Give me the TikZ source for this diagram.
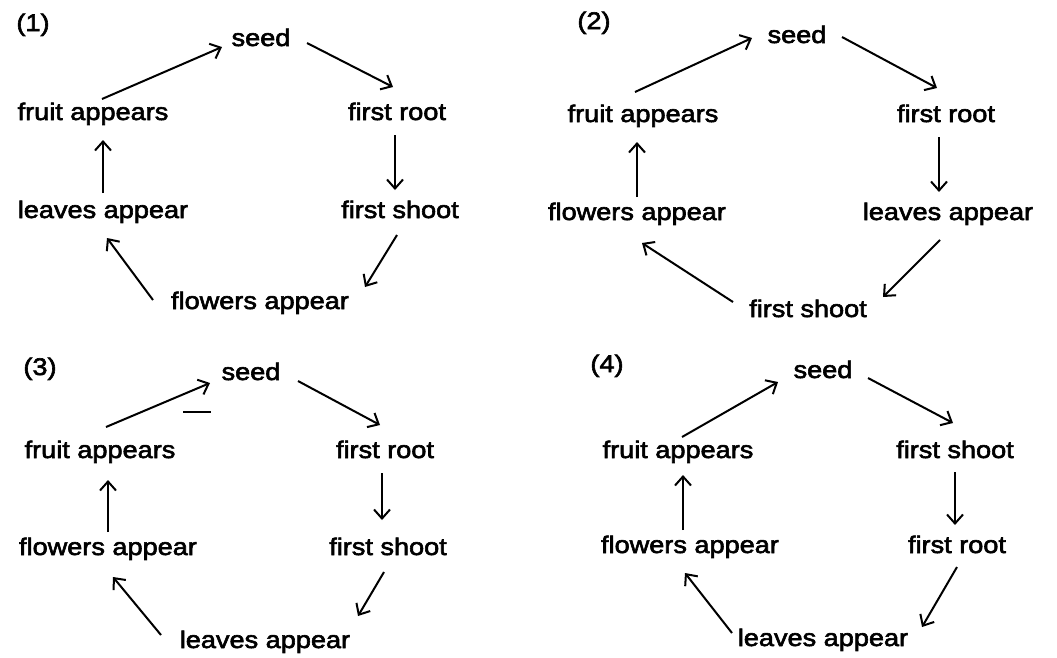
\documentclass[tikz,border=0pt]{standalone}
\usepackage{fontspec}
\setmainfont{Liberation Sans}[FakeStretch=1.13,FakeBold=2.5]
\usetikzlibrary{arrows.meta,calc}
\tikzset{
  lbl/.style={anchor=base,inner sep=0pt,font=\fontsize{24}{28}\selectfont},
  arr/.style={line width=2pt,-{Straight Barb[length=9pt,width=16pt,line width=2pt]}},
}
\begin{document}
\begin{tikzpicture}[x=1pt,y=-1pt]
\useasboundingbox (0,0) rectangle (1057,657);
% ---------- panel 1
\node[lbl] (n1) at (33,31) {(1)};
\node[lbl] (s1) at (261,46) {seed};
\node[lbl] (r1) at (397,120) {first root};
\node[lbl] (fr1) at (93,120) {fruit appears};
\node[lbl] (l1) at (103,218) {leaves appear};
\node[lbl] (sh1) at (400,218) {first shoot};
\node[lbl] (fl1) at (260,309) {flowers appear};
\draw[arr] ($(fr1.base)+(9,-21)$) -- ($(s1.base)+(-39,1)$);
\draw[arr] ($(s1.base)+(46,-3)$) -- ($(r1.base)+(-4,-33)$);
\draw[arr] ($(r1.base)+(-2,15)$) -- ($(sh1.base)+(-5,-28)$);
\draw[arr] ($(sh1.base)+(-3,17)$) -- ($(fl1.base)+(105,-22)$);
\draw[arr] ($(fl1.base)+(-107,-9)$) -- ($(l1.base)+(4,20)$);
\draw[arr] ($(l1.base)+(0,-25)$) -- ($(fr1.base)+(10,20)$);
% ---------- panel 2
\node[lbl] (n2) at (594,29) {(2)};
\node[lbl] (s2) at (797,43) {seed};
\node[lbl] (r2) at (946,122) {first root};
\node[lbl] (fr2) at (643,122) {fruit appears};
\node[lbl] (fl2) at (637,220) {flowers appear};
\node[lbl] (l2) at (948,220) {leaves appear};
\node[lbl] (sh2) at (808,317) {first shoot};
\draw[arr] ($(fr2.base)+(-8,-30)$) -- ($(s2.base)+(-45,-5)$);
\draw[arr] ($(s2.base)+(45,-6)$) -- ($(r2.base)+(-9,-34)$);
\draw[arr] ($(r2.base)+(-7,15)$) -- ($(l2.base)+(-9,-28)$);
\draw[arr] ($(l2.base)+(-8,20)$) -- ($(sh2.base)+(75,-20)$);
\draw[arr] ($(sh2.base)+(-75,-15)$) -- ($(fl2.base)+(5,23)$);
\draw[arr] ($(fl2.base)+(0,-23)$) -- ($(fr2.base)+(-6,20)$);
% ---------- panel 3
\node[lbl] (n3) at (40,375) {(3)};
\node[lbl] (s3) at (251,380) {seed};
\node[lbl] (r3) at (385,458) {first root};
\node[lbl] (fr3) at (100,458) {fruit appears};
\node[lbl] (fl3) at (108,555) {flowers appear};
\node[lbl] (sh3) at (388,555) {first shoot};
\node[lbl] (l3) at (265,648) {leaves appear};
\draw[arr] ($(fr3.base)+(6,-31)$) -- ($(s3.base)+(-41,3)$);
\draw[arr] ($(s3.base)+(47,1)$) -- ($(r3.base)+(-5,-33)$);
\draw[arr] ($(r3.base)+(-3,15)$) -- ($(sh3.base)+(-6,-35)$);
\draw[arr] ($(sh3.base)+(-4,17)$) -- ($(l3.base)+(93,-32)$);
\draw[arr] ($(l3.base)+(-104,-13)$) -- ($(fl3.base)+(5,22)$);
\draw[arr] ($(fl3.base)+(0,-23)$) -- ($(fr3.base)+(8,22)$);
\draw[line width=2pt] ($(s3.base)+(-68,32)$) -- ($(s3.base)+(-40,32)$);
% ---------- panel 4
\node[lbl] (n4) at (607,372) {(4)};
\node[lbl] (s4) at (823,378) {seed};
\node[lbl] (sh4) at (955,458) {first shoot};
\node[lbl] (fr4) at (678,458) {fruit appears};
\node[lbl] (fl4) at (690,553) {flowers appear};
\node[lbl] (r4) at (957,553) {first root};
\node[lbl] (l4) at (823,646) {leaves appear};
\draw[arr] ($(fr4.base)+(4,-21)$) -- ($(s4.base)+(-45,4)$);
\draw[arr] ($(s4.base)+(45,0)$) -- ($(sh4.base)+(-2,-35)$);
\draw[arr] ($(sh4.base)+(0,14)$) -- ($(r4.base)+(-2,-28)$);
\draw[arr] ($(r4.base)+(0,14)$) -- ($(l4.base)+(99,-19)$);
\draw[arr] ($(l4.base)+(-91,-13)$) -- ($(fl4.base)+(-5,20)$);
\draw[arr] ($(fl4.base)+(-7,-23)$) -- ($(fr4.base)+(5,17)$);
\end{tikzpicture}
\end{document}
